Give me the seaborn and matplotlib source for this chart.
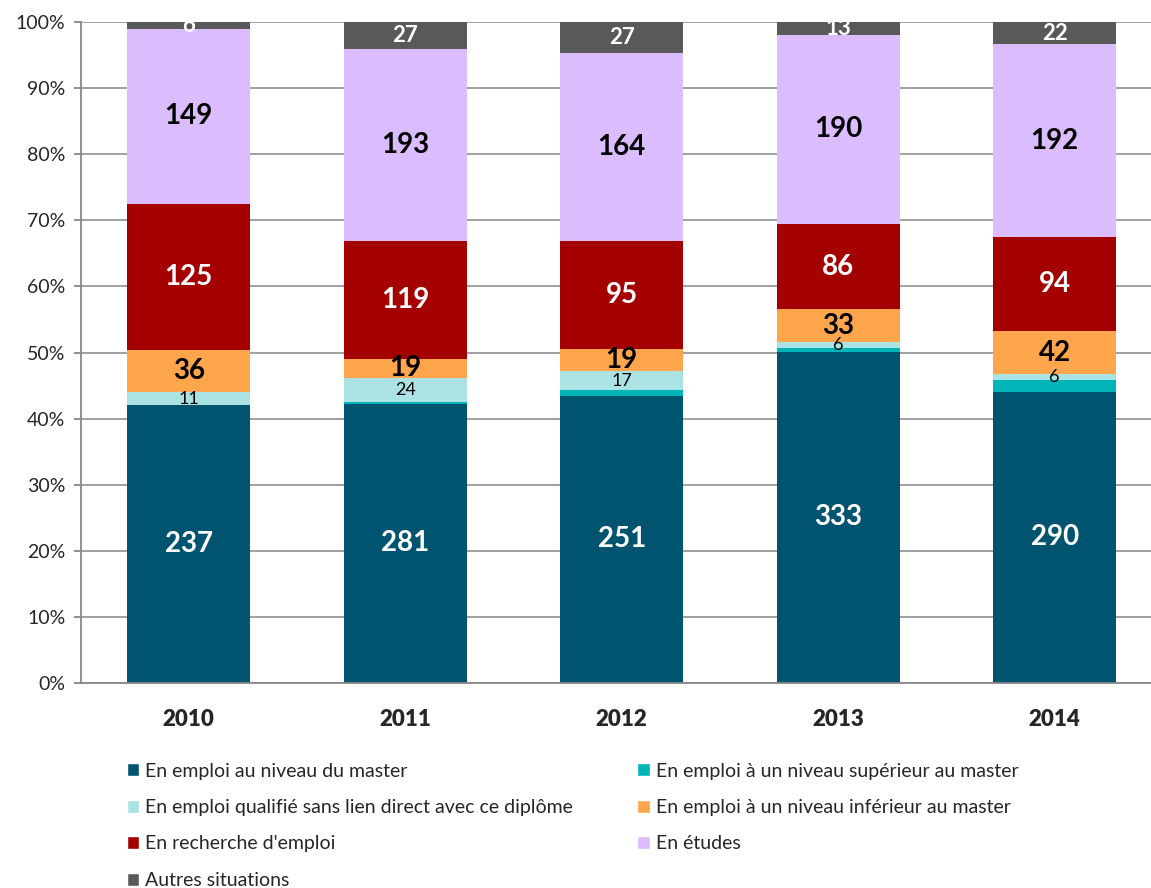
import numpy as np
import pandas as pd
import matplotlib.pyplot as plt
import seaborn as sns
from matplotlib.patches import Patch

sns.set_style('white')
plt.rcParams['font.family'] = ['Lato', 'DejaVu Sans']

# data (numbers of graduates)
years = ['2010', '2011', '2012', '2013', '2014']
categories = ["En emploi au niveau du master",
              "En emploi à un niveau supérieur au master",
              "En emploi qualifié sans lien direct avec ce diplôme",
              "En emploi à un niveau inférieur au master",
              "En recherche d'emploi",
              "En études",
              "Autres situations"]
niveau_master = [237, 281, 251, 333, 290]
niveau_sup = [0, 2, 5, 4, 12]
qualifie = [11, 24, 17, 6, 6]
niveau_inf = [36, 19, 19, 33, 42]
recherche = [125, 119, 95, 86, 94]
etudes = [149, 193, 164, 190, 192]
autres = [6, 27, 27, 13, 22]

colors = ['#00546f', '#00b5b8', '#abe2e3', '#ffa64d', '#a50000', '#dbbdff', '#595959']
# label style per category: (show, text colour, bold, size)
lab_style = [(True, 'white', 'bold', 20),
             (False, None, None, None),
             (True, 'black', 'normal', 13),
             (True, 'black', 'bold', 20),
             (True, 'white', 'bold', 20),
             (True, 'black', 'bold', 20),
             (True, 'white', 'bold', 16)]

counts = np.array([niveau_master, niveau_sup, qualifie, niveau_inf, recherche, etudes, autres], dtype=float)
pct = counts / counts.sum(axis=0) * 100
cum = pct.cumsum(axis=0)

fig = plt.figure(figsize=(11.51, 8.88), dpi=100)
ax = fig.add_axes([0.07, 0.231, 0.93, 0.744])

# stacked bars: draw cumulative heights from the top down
for i in range(len(categories) - 1, -1, -1):
    df = pd.DataFrame({'annee': years, 'pct': cum[i]})
    sns.barplot(data=df, x='annee', y='pct', color=colors[i], width=0.57,
                saturation=1, linewidth=0, ax=ax, zorder=2)

for i, (show, c, w, s) in enumerate(lab_style):
    if not show:
        continue
    for j in range(len(years)):
        y = cum[i, j] - pct[i, j] / 2
        ax.text(j, y, str(int(counts[i, j])), ha='center', va='center',
                color=c, fontweight=w, fontsize=s, zorder=5)

ax.set_ylim(0, 100)
ax.set_xlim(-0.5, 4.445)
ax.set_yticks(np.arange(0, 101, 10))
ax.set_yticklabels([f'{v}%' for v in range(0, 101, 10)], fontsize=14)
ax.yaxis.grid(True, color='#a0a0a0', linewidth=1.4, zorder=0)
ax.set_axisbelow(True)
ax.set_xlabel('')
ax.set_ylabel('')
ax.set_xticks(range(len(years)))
ax.set_xticklabels(years, fontsize=16, fontweight='heavy')
ax.tick_params(axis='x', length=0, pad=19)
ax.set_xticks(np.arange(-0.5, 4.5, 1), minor=True)
ax.tick_params(axis='x', which='minor', length=7, color='#888888', width=1.3)
ax.tick_params(axis='y', length=5, color='#888888', width=1.3, left=True, pad=6)
for side in ['top', 'right']:
    ax.spines[side].set_visible(False)
for side in ['left', 'bottom']:
    ax.spines[side].set_color('#888888')
    ax.spines[side].set_linewidth(1.3)

handles = [Patch(facecolor=colors[i], label=categories[i]) for i in range(len(categories))]
order = [0, 2, 4, 6, 1, 3, 5]
fig.legend([handles[k] for k in order], [categories[k] for k in order],
           ncol=2, loc='upper left', bbox_to_anchor=(0.095, 0.161),
           frameon=False, fontsize=14, handlelength=0.65, handleheight=0.65,
           handletextpad=0.3, columnspacing=3.3, labelspacing=1.0)

fig.savefig('out.png', dpi=100)
